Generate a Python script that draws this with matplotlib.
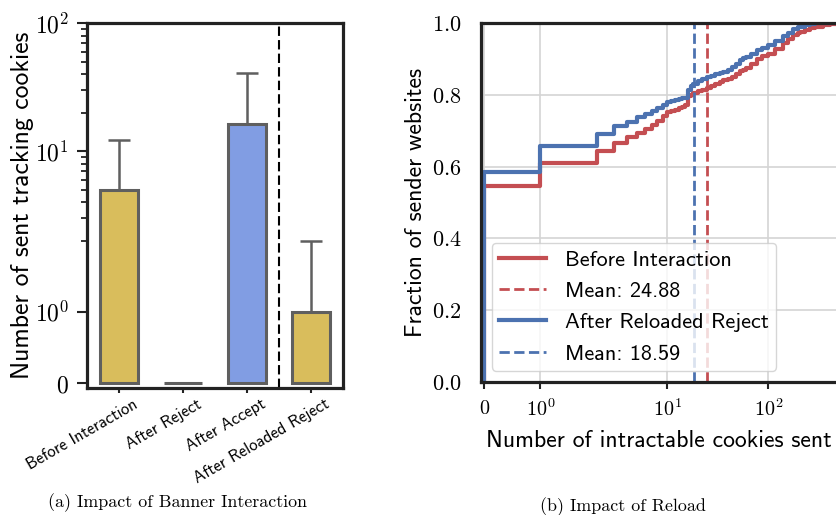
import matplotlib
matplotlib.use('Agg')
import matplotlib.pyplot as plt
from matplotlib.transforms import ScaledTranslation

plt.rcParams['mathtext.fontset'] = 'cm'
plt.rcParams['axes.unicode_minus'] = False

SANS = ['cmss10', 'DejaVu Sans']
SERIF = ['cmr10', 'DejaVu Serif']

# Left panel: mean number of tracking cookies per interaction state
categories = ['Before Interaction', 'After Reject', 'After Accept', 'After Reloaded Reject']
mean_cookies = [5.0, 0.0, 16.3, 1.0]
err_cookies = [7.2, 0.0, 24.7, 1.0]
bar_colors = ['#d9bd5c', '#d9bd5c', '#819de3', '#d9bd5c']

# Right panel: ECDF of intractable cookies per sender website
before_x = [0, 1, 2, 3, 4, 5, 6, 7, 8, 9, 10, 11, 12, 13, 14, 15,
            16, 17, 18, 20, 22, 25, 27, 30, 33, 36, 40, 44, 48, 53, 56, 60,
            67, 77, 87, 100, 117, 141, 157, 177, 196, 207, 232, 260, 291, 352, 410, 480]
before_y = [0.546, 0.611, 0.643, 0.667, 0.682, 0.694, 0.705, 0.716, 0.728, 0.740,
            0.751, 0.755, 0.759, 0.763, 0.767, 0.772,
            0.796, 0.800, 0.804, 0.810, 0.814, 0.820, 0.825, 0.830, 0.835, 0.840,
            0.845, 0.850, 0.858, 0.866, 0.870, 0.874,
            0.886, 0.900, 0.908, 0.915, 0.928, 0.943, 0.955, 0.966, 0.973, 0.976,
            0.981, 0.985, 0.989, 0.994, 0.997, 1.0]
after_x = [0, 1, 2, 3, 4, 5, 6, 7, 8, 9, 10, 11, 12, 13, 14, 15,
           16, 17, 18, 20, 22, 25, 27, 30, 33, 36, 40, 44, 48, 53, 56, 60,
           67, 77, 87, 100, 117, 141, 157, 177, 196, 207, 232, 260, 291, 303, 490]
after_y = [0.586, 0.657, 0.691, 0.714, 0.725, 0.738, 0.747, 0.756, 0.764, 0.772,
           0.779, 0.782, 0.785, 0.788, 0.790, 0.792,
           0.812, 0.824, 0.830, 0.838, 0.843, 0.849, 0.853, 0.858, 0.861, 0.864,
           0.870, 0.878, 0.887, 0.897, 0.902, 0.906,
           0.914, 0.924, 0.931, 0.938, 0.950, 0.963, 0.973, 0.983, 0.988, 0.990,
           0.994, 0.997, 0.999, 1.0, 1.0]
before_mean = 24.88
after_mean = 18.59

red = '#c44e52'
blue = '#4c72b0'
spine_col = '#222222'

fig = plt.figure(figsize=(8.36, 5.15), dpi=100)

# ---- (a) bar chart ----
ax1 = fig.add_axes([87 / 836, 127.5 / 515, 256 / 836, 364.2 / 515])
pos = list(range(len(categories)))
ax1.bar(pos, mean_cookies, width=0.6, color=bar_colors, edgecolor='#5f5f5f',
        linewidth=2.2, zorder=2)
ax1.errorbar(pos, mean_cookies, yerr=[[0] * len(pos), err_cookies], fmt='none',
             ecolor='#5f5f5f', elinewidth=1.8, capsize=8, capthick=1.8, zorder=3)
ax1.axvline(2.5, color='black', linestyle='--', linewidth=1.5, dashes=(4.5, 2))

ax1.set_yscale('symlog', linthresh=2)
ax1.set_ylim(-0.065, 100)
ax1.set_xlim(-0.5, 3.5)
ax1.set_yticks([0, 1, 10, 100])
ax1.set_yticklabels(['$0$', '$10^{0}$', '$10^{1}$', '$10^{2}$'])
ax1.set_yticks([2, 3, 4, 5, 6, 7, 8, 9, 20, 30, 40, 50, 60, 70, 80, 90], minor=True)
ax1.tick_params(axis='y', which='major', length=7, width=1.5, pad=6, labelsize=17,
                color=spine_col)
ax1.tick_params(axis='y', which='minor', length=4, width=1.3, color=spine_col)
ax1.set_xticks(pos)
ax1.set_xticklabels(categories, rotation=30, ha='right', fontfamily=SANS, fontsize=12)
ax1.tick_params(axis='x', length=3.5, width=1.5, pad=3, color=spine_col)
for lab in ax1.get_xticklabels():
    lab.set_transform(lab.get_transform() + ScaledTranslation(0.21, 0, fig.dpi_scale_trans))
for s in ax1.spines.values():
    s.set_linewidth(2.3)
    s.set_color(spine_col)
ax1.set_ylabel('Number of sent tracking cookies', fontfamily=SANS, fontsize=18.5)
ax1.yaxis.set_label_coords(-0.207, 0.5)

# ---- (b) ECDF ----
ax2 = fig.add_axes([480.7 / 836, 133 / 515, 357.3 / 836, 359 / 515])
ax2.set_axisbelow(True)
ax2.grid(True, color='#d4d4d4', linewidth=1.2)
ax2.step([0] + before_x, [0] + before_y, where='post', color=red, linewidth=3.0,
         label='Before Interaction')
ax2.axvline(before_mean, color=red, linestyle='--', linewidth=2,
            label=f'Mean: {before_mean:.2f}')
ax2.step([0] + after_x, [0] + after_y, where='post', color=blue, linewidth=3.0,
         label='After Reloaded Reject')
ax2.axvline(after_mean, color=blue, linestyle='--', linewidth=2,
            label=f'Mean: {after_mean:.2f}')

ax2.set_xscale('symlog', linthresh=2)
ax2.set_xlim(-0.065, 490)
ax2.set_ylim(0, 1.0)
ax2.set_xticks([0, 1, 10, 100])
ax2.set_xticklabels(['$0$', '$10^{0}$', '$10^{1}$', '$10^{2}$'])
ax2.xaxis.set_minor_locator(matplotlib.ticker.NullLocator())
ax2.set_yticks([0, 0.2, 0.4, 0.6, 0.8, 1.0])
ax2.set_yticklabels(['$0.0$', '$0.2$', '$0.4$', '$0.6$', '$0.8$', '$1.0$'])
ax2.tick_params(axis='x', length=5, width=1.5, pad=7, labelsize=14.5, color=spine_col)
ax2.tick_params(axis='y', length=0, pad=14, labelsize=16)
for s in ax2.spines.values():
    s.set_linewidth(2.3)
    s.set_color(spine_col)
ax2.set_xlabel('Number of intractable cookies sent', fontfamily=SANS, fontsize=17.1)
ax2.xaxis.set_label_coords(0.499, -0.134)
ax2.set_ylabel('Fraction of sender websites', fontfamily=SANS, fontsize=17.1)
ax2.yaxis.set_label_coords(-0.150, 0.5)
ax2.legend(loc='lower left', prop={'family': SANS, 'size': 16}, handlelength=2.1,
           handletextpad=0.86, labelspacing=0.53, borderpad=0.33, borderaxespad=0.5)

# subfigure captions
fig.text(178 / 836, 1 - 503 / 515, '(a) Impact of Banner Interaction',
         fontfamily=SERIF, fontsize=12.9, ha='center', va='center')
fig.text(623 / 836, 1 - 507 / 515, '(b) Impact of Reload',
         fontfamily=SERIF, fontsize=12.9, ha='center', va='center')

fig.savefig('out.png', dpi=100)
